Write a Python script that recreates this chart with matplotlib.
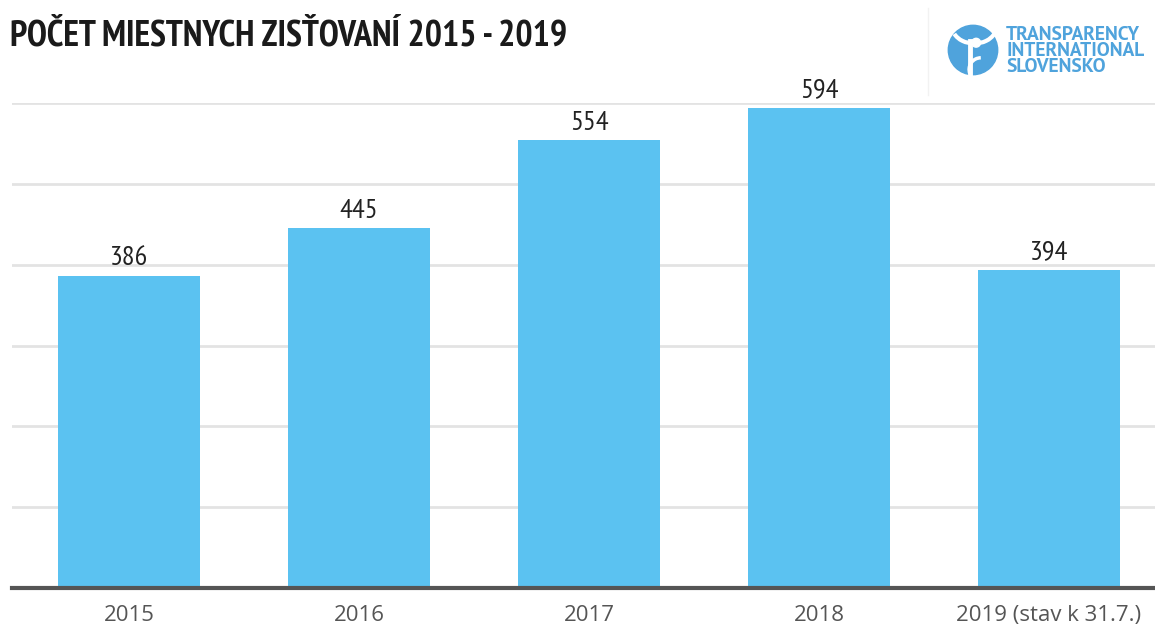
import matplotlib.pyplot as plt
from matplotlib.patches import Circle, Arc
import numpy as np

# Data
years = ["2015", "2016", "2017", "2018", "2019 (stav k 31.7.)"]
counts = [386, 445, 554, 594, 394]

title = "POČET MIESTNYCH ZISŤOVANÍ 2015 - 2019"
logo_lines = ["TRANSPARENCY", "INTERNATIONAL", "SLOVENSKO"]

bar_color = "#5bc2f1"
logo_color = "#4fa3dc"
narrow = ["PT Sans Narrow", "DejaVu Sans"]

W, H = 1155, 629
fig = plt.figure(figsize=(W / 100, H / 100), dpi=100)
ax = fig.add_axes([12 / W, 41 / H, (W - 12) / W, (588 - 103) / H])

x = np.arange(len(years))
ax.bar(x, counts, width=0.617, color=bar_color, zorder=2)
for xi, v in zip(x, counts):
    ax.text(xi, v + 7, str(v), ha="center", va="bottom", fontsize=20.5,
            family=narrow, color="#222222")

ax.set_ylim(0, 600)
ax.set_xlim(-0.509, 4.461)
ax.set_yticks(np.arange(100, 601, 100))
ax.set_yticklabels([])
ax.tick_params(axis="y", length=0)
ax.yaxis.grid(True, color="#e3e3e3", linewidth=2)
ax.set_axisbelow(True)
ax.set_xticks(x)
ax.set_xticklabels(years, fontsize=16, family=["Open Sans", "DejaVu Sans"],
                   color="#555555")
ax.tick_params(axis="x", length=0, pad=12)
for s in ["top", "right", "left"]:
    ax.spines[s].set_visible(False)
ax.spines["bottom"].set_color("#555555")
ax.spines["bottom"].set_linewidth(3)
ax.spines["bottom"].set_zorder(3)

# Title
fig.text(10 / W, 1 - 36 / H, title, ha="left", va="center", fontsize=26,
         fontweight="bold", family=narrow, color="#1a1a1a")

# Logo box edge
fig.add_artist(plt.Line2D([928 / W, 928 / W], [1 - 8 / H, 1 - 95 / H],
                          color="#f2f2f2", linewidth=1))

# Logo symbol (approximate globe with figure)
lax = fig.add_axes([947 / W, 1 - 76 / H, 52 / W, 52 / H])
lax.set_xlim(-1, 1)
lax.set_ylim(-1, 1)
lax.set_aspect("equal")
lax.axis("off")
lax.add_patch(Circle((0, 0), 0.95, color=logo_color))
lax.add_patch(Circle((0.12, 0.28), 0.17, color="white"))
lax.add_patch(Arc((0.05, 0.9), 1.7, 1.3, theta1=200, theta2=340, color="white", lw=3))
lax.plot([-0.12, -0.12], [0.35, -0.95], color="white", lw=3.5)
lax.add_patch(Arc((0.3, -0.75), 0.9, 0.9, theta1=90, theta2=200, color="white", lw=2.5))

for i, line in enumerate(logo_lines):
    fig.text(1006 / W, 1 - (35 + 16 * i) / H, line, ha="left", va="center",
             fontsize=14, fontweight="bold", family=["PT Sans", "DejaVu Sans"],
             color=logo_color)

fig.savefig("out.png", dpi=100)
